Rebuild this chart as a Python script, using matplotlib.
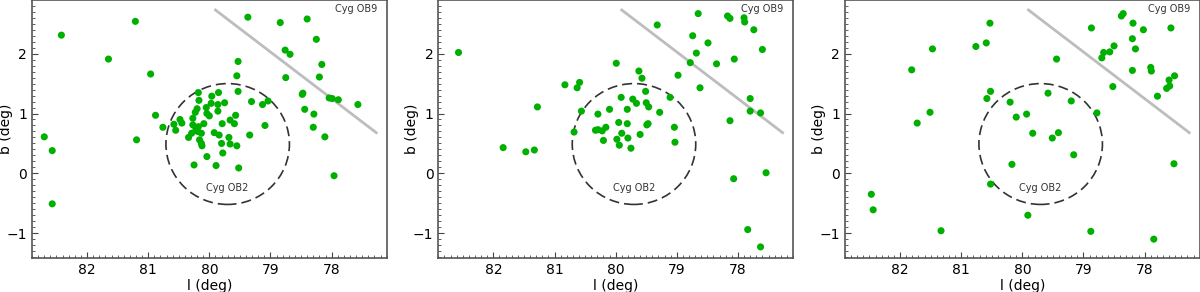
import numpy as np
import matplotlib.pyplot as plt
from matplotlib.patches import Ellipse
from matplotlib.ticker import MultipleLocator

# panel 1
l1 = [82.70, 82.57, 82.57, 82.42, 81.65, 81.21, 81.19, 80.96, 80.88, 80.76,
      80.58, 80.55, 80.48, 80.45, 80.34, 80.29, 80.27, 80.27, 80.25, 80.23,
      80.20, 80.18, 80.17, 80.21, 80.18, 80.16, 80.13, 80.13, 80.12, 80.09,
      80.05, 80.04, 80.04, 80.00, 79.97, 79.96, 79.92, 79.89, 79.86, 79.85,
      79.86, 79.84, 79.80, 79.79, 79.78, 79.75, 79.68, 79.66, 79.66, 79.59,
      79.57, 79.55, 79.55, 79.53, 79.53, 79.52, 79.34, 79.37, 79.31, 79.13,
      79.09, 79.04, 78.84, 78.76, 78.75, 78.68, 78.47, 78.48, 78.44, 78.40,
      78.29, 78.30, 78.25, 78.20, 78.16, 78.11, 78.04, 77.99, 77.96, 77.89,
      77.57, 80.22, 80.19]
b1 = [0.61, 0.38, -0.51, 2.31, 1.91, 2.54, 0.56, 1.66, 0.97, 0.77,
      0.82, 0.72, 0.90, 0.84, 0.60, 0.67, 0.92, 0.81, 0.14, 1.02,
      1.08, 1.35, 1.22, 0.72, 0.78, 0.56, 0.50, 0.67, 0.46, 0.83,
      1.10, 1.00, 0.28, 0.96, 1.17, 1.29, 0.68, 0.13, 1.04, 1.35,
      1.15, 0.64, 0.50, 0.83, 0.34, 1.18, 0.60, 0.49, 0.89, 0.83,
      0.97, 0.46, 1.63, 1.87, 1.37, 0.09, 0.64, 2.61, 1.20, 1.15,
      0.80, 1.21, 2.52, 2.06, 1.60, 1.99, 1.34, 1.32, 1.07, 2.58,
      0.99, 0.77, 2.24, 1.61, 1.82, 0.61, 1.26, 1.25, -0.04, 1.23,
      1.15, 0.75, 0.70]

# panel 2
l2 = [82.57, 81.84, 81.47, 81.33, 81.28, 80.83, 80.63, 80.59, 80.56, 80.68,
      80.33, 80.29, 80.29, 80.22, 80.16, 80.20, 80.10, 79.99, 79.98, 79.95,
      79.94, 79.91, 79.90, 79.81, 79.81, 79.80, 79.75, 79.72, 79.66, 79.62,
      79.60, 79.57, 79.51, 79.50, 79.49, 79.47, 79.46, 79.32, 79.28, 79.11,
      79.04, 79.03, 78.98, 78.78, 78.74, 78.68, 78.65, 78.62, 78.49, 78.35,
      78.17, 78.13, 78.13, 78.07, 78.06, 77.89, 77.90, 77.80, 77.80, 77.84,
      77.74, 77.63, 77.63, 77.60, 77.54]
b2 = [2.02, 0.43, 0.36, 0.39, 1.11, 1.48, 1.43, 1.52, 1.04, 0.69,
      0.72, 0.73, 0.99, 0.71, 0.77, 0.55, 1.07, 1.84, 0.57, 0.85,
      0.47, 1.27, 0.67, 0.83, 1.07, 0.59, 0.42, 1.24, 1.17, 1.71,
      0.65, 1.59, 1.37, 1.18, 0.81, 0.83, 1.11, 2.48, 1.02, 1.27,
      0.77, 0.52, 1.64, 1.85, 2.30, 2.01, 2.67, 1.43, 2.18, 1.83,
      2.63, 2.59, 0.88, -0.09, 1.91, 2.53, 2.60, 1.25, 1.04, -0.94,
      2.40, 1.01, -1.23, 2.07, 0.01]

# panel 3
l3 = [82.47, 82.44, 81.81, 81.72, 81.51, 81.47, 81.33, 80.76, 80.59, 80.58,
      80.53, 80.52, 80.52, 80.20, 80.17, 80.10, 79.93, 79.91, 79.83, 79.58,
      79.51, 79.44, 79.41, 79.20, 79.16, 78.78, 78.88, 78.87, 78.70, 78.67,
      78.57, 78.52, 78.50, 78.38, 78.35, 78.20, 78.20, 78.19, 78.15, 78.02,
      77.90, 77.89, 77.85, 77.79, 77.64, 77.60, 77.59, 77.57, 77.52, 77.51]
b3 = [-0.35, -0.61, 1.73, 0.84, 1.02, 2.08, -0.96, 2.12, 2.18, 1.25,
      2.51, 1.37, -0.18, 1.19, 0.15, 0.94, 0.99, -0.70, 0.67, 1.34,
      0.59, 1.91, 0.68, 1.21, 0.31, 1.01, -0.97, 2.43, 1.93, 2.02,
      2.03, 1.45, 2.13, 2.63, 2.67, 1.72, 2.25, 2.51, 2.08, 2.40,
      1.77, 1.71, -1.10, 1.29, 1.42, 1.56, 1.46, 2.43, 0.16, 1.63]

panels = [(l1, b1), (l2, b2), (l3, b3)]

# Cyg OB2 circle and Cyg OB9 boundary
ob2_center = (79.70, 0.49)
ob2_radius = 1.01
ob9_l = [79.90, 77.27]
ob9_b = [2.73, 0.68]

fig = plt.figure(figsize=(12, 2.92), dpi=100)
lefts = [0.0267, 0.3653, 0.7042]

for left, (l, b) in zip(lefts, panels):
    ax = fig.add_axes([left, 0.1175, 0.2955, 0.881])
    ax.plot(ob9_l, ob9_b, color='#bdbdbd', lw=2, zorder=1)
    ax.add_patch(Ellipse(ob2_center, 2 * ob2_radius, 2 * ob2_radius,
                         fill=False, ls=(0, (6, 3)), lw=1.2,
                         ec='#333333', zorder=2))
    ax.scatter(l, b, s=26, color='#00b000', edgecolors='none', zorder=3)
    ax.text(79.70, -0.25, 'Cyg OB2', fontsize=7, color='#333333',
            ha='center', va='center')
    ax.text(77.60, 2.74, 'Cyg OB9', fontsize=7, color='#333333',
            ha='center', va='center')

    ax.set_xlim(82.9, 77.1)
    ax.set_ylim(-1.41, 2.89)
    ax.set_xticks([82, 81, 80, 79, 78])
    ax.set_yticks([-1, 0, 1, 2])
    ax.xaxis.set_minor_locator(MultipleLocator(0.1))
    ax.yaxis.set_minor_locator(MultipleLocator(0.1))
    ax.tick_params(which='both', direction='in', color='#444444',
                   top=False, right=False)
    ax.tick_params(which='major', length=4, labelsize=10)
    ax.tick_params(which='minor', length=2)
    ax.set_xlabel('l (deg)', fontsize=10, labelpad=2)
    ax.set_ylabel('b (deg)', fontsize=10)
    ax.yaxis.set_label_coords(-0.055, 0.5)
    for sp in ax.spines.values():
        sp.set_color('#555555')
        sp.set_linewidth(1.2)

fig.savefig('out.png', dpi=100)
